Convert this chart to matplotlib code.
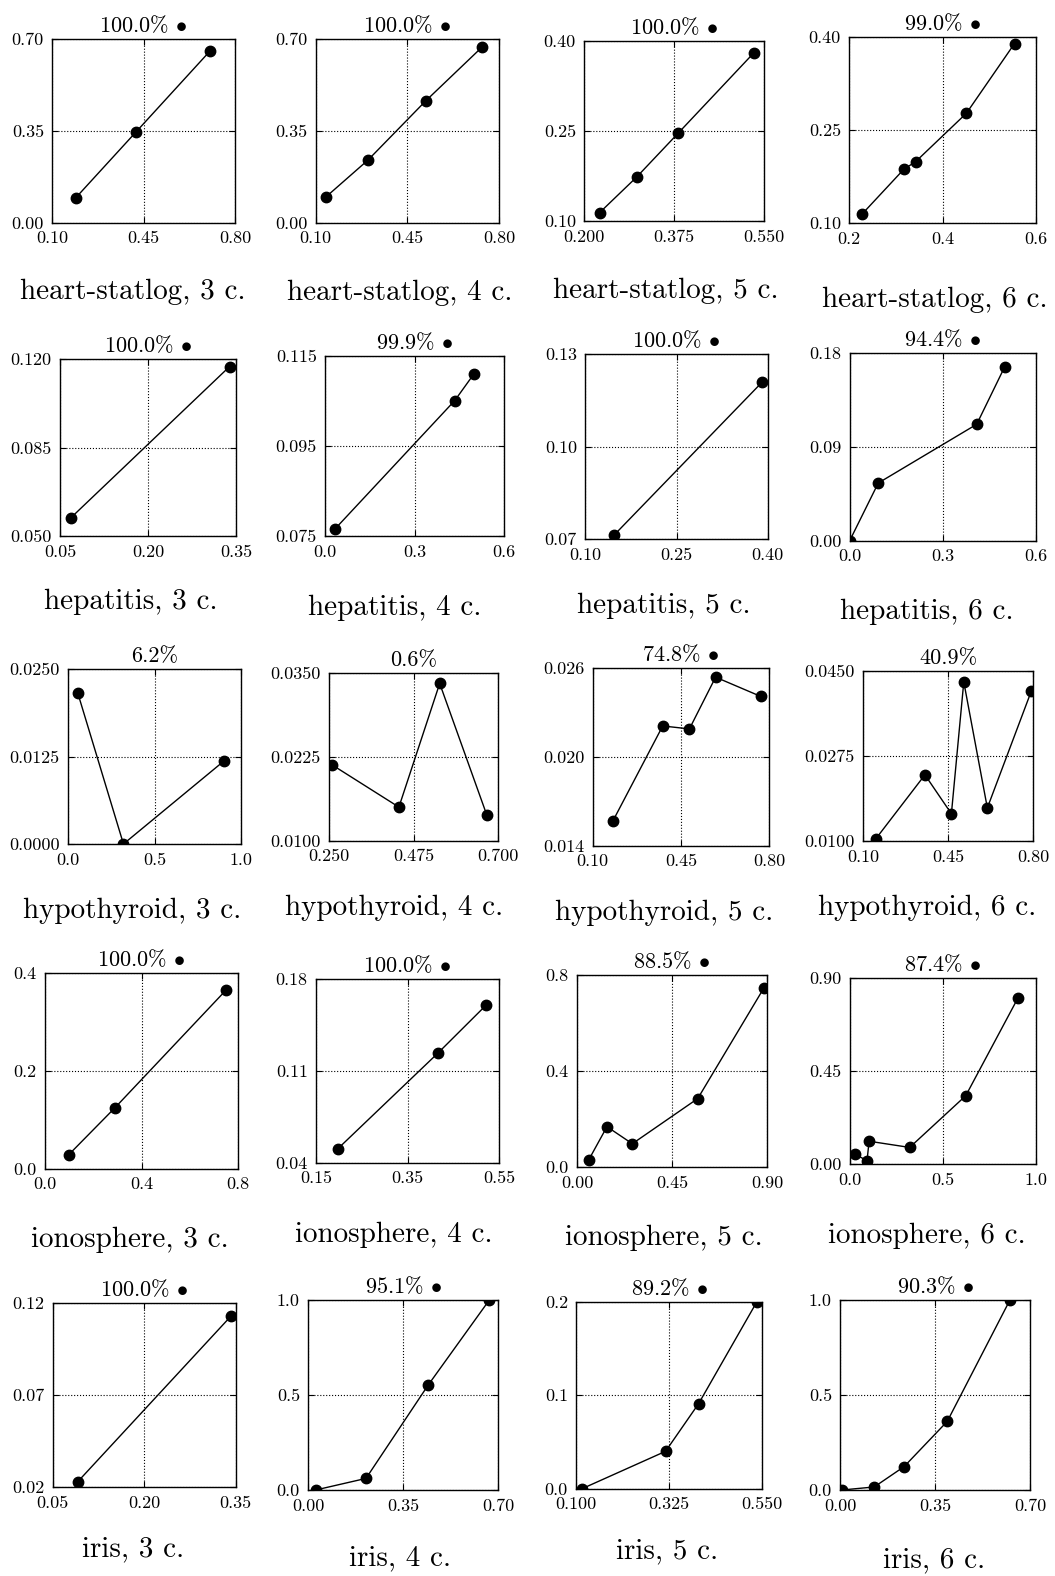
import matplotlib
matplotlib.use("Agg")
import matplotlib.pyplot as plt

plt.rcParams.update({
    "font.family": "cmr10",
    "mathtext.fontset": "cm",
    "axes.unicode_minus": False,
    "axes.formatter.use_mathtext": True,
    "axes.linewidth": 1.0,
    "xtick.direction": "in",
    "ytick.direction": "in",
    "xtick.top": True,
    "ytick.right": True,
    "xtick.major.size": 4,
    "ytick.major.size": 4,
    "xtick.major.pad": 6,
    "ytick.major.pad": 6,
    "xtick.labelsize": 13,
    "ytick.labelsize": 13,
})

datasets = ["heart-statlog", "hepatitis", "hypothyroid", "ionosphere", "iris"]
n_clusters = [3, 4, 5, 6]

# one entry per panel, row by row
x_values = [
    [0.19, 0.42, 0.705],
    [0.14, 0.30, 0.52, 0.734],
    [0.23, 0.302, 0.383, 0.531],
    [0.227, 0.317, 0.342, 0.451, 0.554],
    [0.069, 0.339],
    [0.034, 0.435, 0.499],
    [0.148, 0.391],
    [0.0, 0.092, 0.409, 0.499],
    [0.056, 0.32, 0.902],
    [0.257, 0.436, 0.545, 0.671],
    [0.181, 0.378, 0.484, 0.588, 0.767],
    [0.152, 0.355, 0.464, 0.515, 0.612, 0.793],
    [0.099, 0.288, 0.748],
    [0.197, 0.416, 0.521],
    [0.055, 0.142, 0.262, 0.572, 0.886],
    [0.027, 0.093, 0.104, 0.322, 0.623, 0.902],
    [0.091, 0.343],
    [0.027, 0.2125, 0.442, 0.667],
    [0.114, 0.316, 0.396, 0.537],
    [0.006, 0.125, 0.235, 0.394, 0.625],
]
y_values = [
    [0.095, 0.345, 0.655],
    [0.099, 0.239, 0.464, 0.668],
    [0.114, 0.173, 0.246, 0.380],
    [0.1145, 0.187, 0.199, 0.277, 0.389],
    [0.0573, 0.117],
    [0.0766, 0.1051, 0.111],
    [0.0715, 0.121],
    [0.0, 0.0554, 0.1118, 0.1669],
    [0.0216, 0.0, 0.0119],
    [0.0213, 0.0150, 0.0334, 0.0138],
    [0.0157, 0.0221, 0.0219, 0.0254, 0.0241],
    [0.0104, 0.0236, 0.0156, 0.0427, 0.0168, 0.0408],
    [0.029, 0.124, 0.365],
    [0.0504, 0.1235, 0.160],
    [0.030, 0.169, 0.098, 0.286, 0.747],
    [0.048, 0.016, 0.110, 0.080, 0.330, 0.800],
    [0.023, 0.113],
    [0.0, 0.061, 0.553, 1.0],
    [0.0, 0.040, 0.091, 0.2],
    [0.0, 0.016, 0.123, 0.361, 1.0],
]
scores = [100.0, 100.0, 100.0, 99.0,
          100.0, 99.9, 100.0, 94.4,
          6.2, 0.6, 74.8, 40.9,
          100.0, 100.0, 88.5, 87.4,
          100.0, 95.1, 89.2, 90.3]
marked = [True, True, True, True,
          True, True, True, True,
          False, False, True, False,
          True, True, True, True,
          True, True, True, True]
x_tick_labels = [
    ["0.10", "0.45", "0.80"], ["0.10", "0.45", "0.80"],
    ["0.200", "0.375", "0.550"], ["0.2", "0.4", "0.6"],
    ["0.05", "0.20", "0.35"], ["0.0", "0.3", "0.6"],
    ["0.10", "0.25", "0.40"], ["0.0", "0.3", "0.6"],
    ["0.0", "0.5", "1.0"], ["0.250", "0.475", "0.700"],
    ["0.10", "0.45", "0.80"], ["0.10", "0.45", "0.80"],
    ["0.0", "0.4", "0.8"], ["0.15", "0.35", "0.55"],
    ["0.00", "0.45", "0.90"], ["0.0", "0.5", "1.0"],
    ["0.05", "0.20", "0.35"], ["0.00", "0.35", "0.70"],
    ["0.100", "0.325", "0.550"], ["0.00", "0.35", "0.70"],
]
y_tick_labels = [
    ["0.00", "0.35", "0.70"], ["0.00", "0.35", "0.70"],
    ["0.10", "0.25", "0.40"], ["0.10", "0.25", "0.40"],
    ["0.050", "0.085", "0.120"], ["0.075", "0.095", "0.115"],
    ["0.07", "0.10", "0.13"], ["0.00", "0.09", "0.18"],
    ["0.0000", "0.0125", "0.0250"], ["0.0100", "0.0225", "0.0350"],
    ["0.014", "0.020", "0.026"], ["0.0100", "0.0275", "0.0450"],
    ["0.0", "0.2", "0.4"], ["0.04", "0.11", "0.18"],
    ["0.0", "0.4", "0.8"], ["0.00", "0.45", "0.90"],
    ["0.02", "0.07", "0.12"], ["0.0", "0.5", "1.0"],
    ["0.0", "0.1", "0.2"], ["0.0", "0.5", "1.0"],
]

# panel frames in pixels (left, top, right, bottom) and caption anchors (centre x, top y)
W, H = 1055, 1576
frames = [
    (52.3, 39, 235, 222.7), (315.7, 39, 499, 222.7),
    (584.3, 40.7, 763.7, 221), (849.3, 36.7, 1036, 223.3),
    (60, 359, 236, 536), (325, 356, 504, 536),
    (585.3, 354.3, 767.7, 539.3), (849.7, 353.3, 1036, 540.7),
    (68, 669, 241.3, 844), (329.3, 672.7, 497.7, 840.7),
    (592.7, 668.3, 769, 845.7), (863, 670.7, 1033, 841),
    (45, 973.3, 238.3, 1168.7), (316, 979.3, 499, 1162.7),
    (577, 975, 767, 1167.3), (849.7, 977.7, 1036, 1164),
    (52.7, 1302.7, 235.7, 1487.3), (308.3, 1300, 498.3, 1490),
    (576.3, 1301.7, 762.3, 1488.7), (840.3, 1300, 1030.3, 1490),
]
captions = [
    (133, 279), (400, 280), (666, 278), (935, 287),
    (131, 589), (395, 595), (664, 593), (927, 599),
    (132, 898), (394, 895), (664, 900), (927, 895),
    (130, 1227), (394, 1222), (664, 1225), (927, 1223),
    (133, 1536), (400, 1545), (667, 1538), (934, 1547),
]

fig = plt.figure(figsize=(W / 100, H / 100), dpi=100)

for i in range(len(x_values)):
    l, t, r, b = frames[i]
    ax = fig.add_axes([l / W, 1 - b / H, (r - l) / W, (b - t) / H])
    ax.plot(x_values[i], y_values[i], "-o", color="k", lw=1.0, ms=7.5)

    xt = [float(s) for s in x_tick_labels[i]]
    yt = [float(s) for s in y_tick_labels[i]]
    ax.set_xlim(xt[0], xt[-1])
    ax.set_ylim(yt[0], yt[-1])
    ax.set_xticks(xt, x_tick_labels[i])
    ax.set_yticks(yt, y_tick_labels[i])
    ax.grid(True, ls=":", color="k", lw=0.8)

    title = "%.1f%%" % scores[i]
    if marked[i]:
        title += r" $\bullet$"
    ax.set_title(title, fontsize=16, pad=5)

    cx, cy = captions[i]
    name = "%s, %d c." % (datasets[i // 4], n_clusters[i % 4])
    fig.text(cx / W, 1 - cy / H, name, ha="center", va="top", fontsize=21)

fig.savefig("out.png", dpi=100)
